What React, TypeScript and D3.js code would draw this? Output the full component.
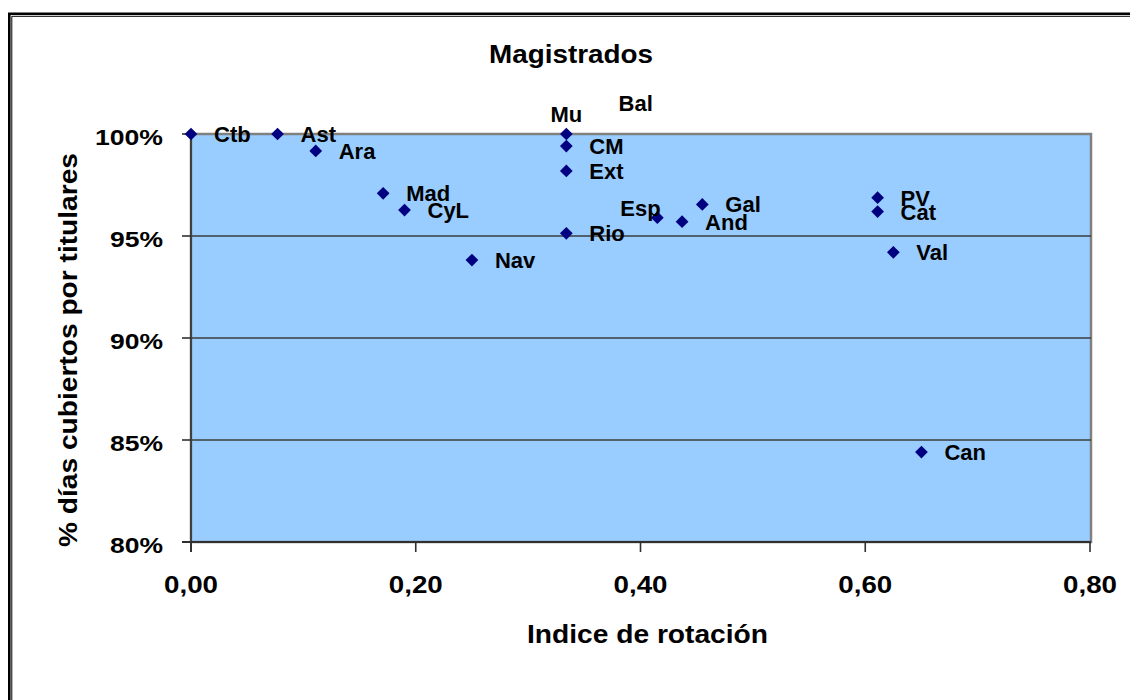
import { useEffect, useRef } from 'react';
import * as d3 from 'd3';

// Comunidades (etiquetas de los puntos)
const regions = ['Ctb', 'Ast', 'Ara', 'Mad', 'CyL', 'Nav', 'Mu', 'CM', 'Ext', 'Rio', 'Esp', 'And', 'Gal', 'PV', 'Cat', 'Val', 'Can', 'Bal'];
// Indice de rotación
const rotation = [0.0, 0.077, 0.111, 0.171, 0.19, 0.25, 0.334, 0.334, 0.334, 0.334, 0.415, 0.437, 0.455, 0.611, 0.611, 0.625, 0.65, 0.36];
// % días cubiertos por titulares
const coverage = [100.0, 100.0, 99.17, 97.09, 96.27, 93.82, 100.0, 99.41, 98.19, 95.13, 95.9, 95.7, 96.55, 96.88, 96.2, 94.2, 84.41, 101.52];

const xTicks = [0, 0.2, 0.4, 0.6, 0.8];
const yTicks = [80, 85, 90, 95, 100];

const title = 'Magistrados';
const xTitle = 'Indice de rotación';
const yTitle = '% días cubiertos por titulares';

// label placement tweaks (dx, dy, anchor) where Excel moved them
const labelPlacement: Record<string, { dx: number; dy: number; anchor: string }> = {
  Mu: { dx: 0, dy: -20, anchor: 'middle' },
  Esp: { dx: -37, dy: -10, anchor: 'start' },
};

const FONT = '"Liberation Sans", Arial, sans-serif';

export default function App() {
  const svgRef = useRef<SVGSVGElement>(null);

  useEffect(() => {
    const width = 1130;
    const height = 700;
    const plot = { left: 191, right: 1091, top: 134, bottom: 542 };

    const x = d3.scaleLinear().domain([0, 0.8]).range([plot.left, plot.right - 1]);
    const y = d3.scaleLinear().domain([80, 100]).range([plot.bottom, plot.top]);

    const svg = d3.select(svgRef.current);
    svg.selectAll('*').remove();
    svg.attr('width', width).attr('height', height);

    svg.append('rect').attr('width', width).attr('height', height).attr('fill', '#fff');

    // outer double frame
    svg
      .append('path')
      .attr('d', `M9.3,${height} V13.7 H${width}`)
      .attr('fill', 'none')
      .attr('stroke', '#000')
      .attr('stroke-width', 2.6);
    svg
      .append('path')
      .attr('d', `M11.8,${height} V16.3 H${width}`)
      .attr('fill', 'none')
      .attr('stroke', '#000')
      .attr('stroke-width', 1);

    // plot area
    svg
      .append('rect')
      .attr('x', plot.left)
      .attr('y', plot.top)
      .attr('width', plot.right - plot.left)
      .attr('height', plot.bottom - plot.top)
      .attr('fill', '#99ccff')
      .attr('stroke', '#808080')
      .attr('stroke-width', 2.5);

    // gridlines
    svg
      .append('g')
      .selectAll('line')
      .data(yTicks.filter(t => t > 80 && t < 100))
      .enter()
      .append('line')
      .attr('x1', plot.left)
      .attr('x2', plot.right)
      .attr('y1', d => y(d))
      .attr('y2', d => y(d))
      .attr('stroke', '#3c3c3c')
      .attr('stroke-width', 1.6);

    // axis lines + ticks
    svg
      .append('line')
      .attr('x1', plot.left)
      .attr('x2', plot.left)
      .attr('y1', plot.top)
      .attr('y2', plot.bottom + 10)
      .attr('stroke', '#404040')
      .attr('stroke-width', 2);
    svg
      .append('line')
      .attr('x1', plot.left - 9)
      .attr('x2', plot.right)
      .attr('y1', plot.bottom)
      .attr('y2', plot.bottom)
      .attr('stroke', '#303030')
      .attr('stroke-width', 2);

    svg
      .append('g')
      .selectAll('line')
      .data(yTicks)
      .enter()
      .append('line')
      .attr('x1', plot.left - 9)
      .attr('x2', plot.left)
      .attr('y1', d => y(d))
      .attr('y2', d => y(d))
      .attr('stroke', '#303030')
      .attr('stroke-width', 1.6);
    svg
      .append('g')
      .selectAll('line')
      .data(xTicks)
      .enter()
      .append('line')
      .attr('x1', d => x(d))
      .attr('x2', d => x(d))
      .attr('y1', plot.bottom)
      .attr('y2', plot.bottom + 10)
      .attr('stroke', '#303030')
      .attr('stroke-width', 1.6);

    const fmtX = (v: number) => v.toFixed(2).replace('.', ',');

    // tick labels
    svg
      .append('g')
      .selectAll('text')
      .data(yTicks)
      .enter()
      .append('text')
      .attr('x', 163)
      .attr('y', d => y(d) + 10.5)
      .attr('text-anchor', 'end')
      .attr('font-family', FONT)
      .attr('font-weight', 'bold')
      .attr('font-size', 22)
      .attr('textLength', d => (d === 100 ? 68 : 53))
      .attr('lengthAdjust', 'spacingAndGlyphs')
      .text(d => `${d}%`);

    svg
      .append('g')
      .selectAll('text')
      .data(xTicks)
      .enter()
      .append('text')
      .attr('x', d => x(d))
      .attr('y', 593)
      .attr('text-anchor', 'middle')
      .attr('font-family', FONT)
      .attr('font-weight', 'bold')
      .attr('font-size', 23)
      .attr('textLength', 54)
      .attr('lengthAdjust', 'spacingAndGlyphs')
      .text(d => fmtX(d));

    // titles
    svg
      .append('text')
      .attr('x', 571)
      .attr('y', 63)
      .attr('text-anchor', 'middle')
      .attr('font-family', FONT)
      .attr('font-weight', 'bold')
      .attr('font-size', 25)
      .attr('textLength', 164)
      .attr('lengthAdjust', 'spacingAndGlyphs')
      .text(title);

    svg
      .append('text')
      .attr('x', 647.5)
      .attr('y', 643)
      .attr('text-anchor', 'middle')
      .attr('font-family', FONT)
      .attr('font-weight', 'bold')
      .attr('font-size', 25)
      .attr('textLength', 241)
      .attr('lengthAdjust', 'spacingAndGlyphs')
      .text(xTitle);

    svg
      .append('text')
      .attr('transform', 'translate(77,350) rotate(-90)')
      .attr('text-anchor', 'middle')
      .attr('font-family', FONT)
      .attr('font-weight', 'bold')
      .attr('font-size', 25)
      .attr('textLength', 394)
      .attr('lengthAdjust', 'spacingAndGlyphs')
      .text(yTitle);

    const points = regions.map((name, i) => ({ name, rx: rotation[i], cov: coverage[i] }));

    // markers (points outside the axis range are hidden, like Excel)
    const diamond = d3.symbol().type(d3.symbolSquare).size(81);
    svg
      .append('g')
      .selectAll('path')
      .data(points.filter(p => p.cov <= 100 && p.cov >= 80))
      .enter()
      .append('path')
      .attr('d', diamond()!)
      .attr('transform', d => `translate(${x(d.rx)},${y(d.cov)}) rotate(45)`)
      .attr('fill', '#000080');

    // data labels
    svg
      .append('g')
      .selectAll('text')
      .data(points)
      .enter()
      .append('text')
      .attr('x', d => x(d.rx) + (labelPlacement[d.name]?.dx ?? 23))
      .attr('y', d => y(d.cov) + 8 + (labelPlacement[d.name]?.dy ?? 0))
      .attr('text-anchor', d => labelPlacement[d.name]?.anchor ?? 'start')
      .attr('font-family', FONT)
      .attr('font-weight', 'bold')
      .attr('font-size', 22)
      .attr('fill', '#000')
      .text(d => d.name);
  }, []);

  return (
    <div style={{ position: 'absolute', left: 0, top: 0 }}>
      <svg ref={svgRef} width={1130} height={700} style={{ display: 'block' }}></svg>
    </div>
  );
}
